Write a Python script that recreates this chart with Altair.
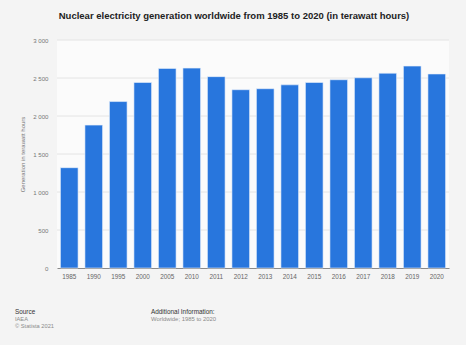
import altair as alt
import pandas as pd

years = ["1985", "1990", "1995", "2000", "2005", "2010", "2011", "2012", "2013",
         "2014", "2015", "2016", "2017", "2018", "2019", "2020"]
values = [1320, 1880, 2190, 2441, 2626, 2630, 2518, 2346, 2359,
          2410, 2441, 2477, 2503, 2563, 2657, 2553]
y_ticks = [0, 500, 1000, 1500, 2000, 2500, 3000]

title_text = "Nuclear electricity generation worldwide from 1985 to 2020 (in terawatt hours)"
y_title = "Generation in terawatt hours"
source_lines = ["Source", "IAEA", "\u00a9 Statista 2021"]
info_lines = ["Additional Information:", "Worldwide; 1985 to 2020"]

FONT = "Liberation Sans"
W, H = 392, 228
L, T = 57, 40

df = pd.DataFrame({"year": years, "value": values})
df["odd"] = [i % 2 == 1 for i in range(len(years))]
df["top"] = 3000
grid_df = pd.DataFrame({"v": y_ticks[1:]})

yscale = alt.Scale(domain=[0, 3000], nice=False)

bg = alt.Chart(df).transform_filter("datum.odd").mark_bar(color="#fbfbfb").encode(
    x=alt.X("year:N", sort=years, axis=None,
            scale=alt.Scale(paddingInner=0, paddingOuter=0)),
    y=alt.Y("top:Q", scale=yscale, axis=None),
)

grid = alt.Chart(grid_df).mark_rule(color="#e4e4e4", strokeWidth=1).encode(
    y=alt.Y("v:Q", scale=yscale, axis=None),
)

bars = alt.Chart(df).mark_bar(color="#2876dd", stroke="#e8f0fb", strokeWidth=0.6).encode(
    x=alt.X("year:N", sort=years, title=None,
            scale=alt.Scale(paddingInner=0.28, paddingOuter=0.14),
            axis=alt.Axis(labelFont=FONT, labelFontSize=6.4, labelColor="#666666",
                          labelAngle=0, labelPadding=5, ticks=False,
                          domain=True, domainColor="#8a8a8a", domainWidth=1,
                          grid=False)),
    y=alt.Y("value:Q", scale=yscale,
            axis=alt.Axis(values=y_ticks, title=y_title,
                          labelExpr="replace(format(datum.value, ','), ',', ' ')",
                          labelFont=FONT, labelFontSize=6.1, labelColor="#777777",
                          labelPadding=9, ticks=False, domain=False, grid=False,
                          titleFont=FONT, titleFontSize=6, titleFontWeight="normal",
                          titleColor="#777777", titlePadding=7)),
)

# thin white edge at right and bottom of the reference image
edge_r = alt.Chart(pd.DataFrame({"a": [0]})).mark_rect(color="#ffffff").encode(
    x=alt.value(466 - L), x2=alt.value(468 - L), y=alt.value(-T), y2=alt.value(348 - T))
edge_b = alt.Chart(pd.DataFrame({"a": [0]})).mark_rect(color="#ffffff").encode(
    x=alt.value(-L), x2=alt.value(468 - L), y=alt.value(345 - T), y2=alt.value(348 - T))

title = alt.Chart(pd.DataFrame({"t": [title_text]})).mark_text(
    font=FONT, fontSize=9.5, fontWeight="bold", color="#222222", align="center",
    baseline="middle"
).encode(text="t:N", x=alt.value(234 - L), y=alt.value(16 - T))

src = pd.DataFrame({"t": source_lines, "row": [0, 1, 2]})
src_head = alt.Chart(src).transform_filter("datum.row == 0").mark_text(
    font=FONT, fontSize=6.4, color="#333333", align="left", baseline="middle"
).encode(text="t:N", x=alt.value(15 - L), y=alt.value(312 - T))
src_rest = alt.Chart(src).transform_filter("datum.row > 0").mark_text(
    font=FONT, fontSize=5.7, color="#8a8a8a", align="left", baseline="middle"
).encode(text="t:N", x=alt.value(15 - L),
         y=alt.Y("row:Q", scale=alt.Scale(domain=[1, 2], range=[319.2 - T, 325.6 - T]), axis=None))

info = pd.DataFrame({"t": info_lines, "row": [0, 1]})
info_head = alt.Chart(info).transform_filter("datum.row == 0").mark_text(
    font=FONT, fontSize=6.4, color="#333333", align="left", baseline="middle"
).encode(text="t:N", x=alt.value(151 - L), y=alt.value(312 - T))
info_rest = alt.Chart(info).transform_filter("datum.row == 1").mark_text(
    font=FONT, fontSize=5.9, color="#8a8a8a", align="left", baseline="middle"
).encode(text="t:N", x=alt.value(151 - L), y=alt.value(319.2 - T))

chart = alt.layer(bg, grid, bars, edge_r, edge_b, title, src_head, src_rest,
                  info_head, info_rest).resolve_scale(
    x="independent", y="independent"
).properties(
    width=W, height=H,
    autosize=alt.AutoSizeParams(type="none"),
    padding={"left": L, "top": T, "right": 468 - L - W, "bottom": 348 - T - H},
    background="#f4f4f4",
).configure_view(stroke=None)

chart.save("out.html", embed_options={"renderer": "svg", "actions": False})
